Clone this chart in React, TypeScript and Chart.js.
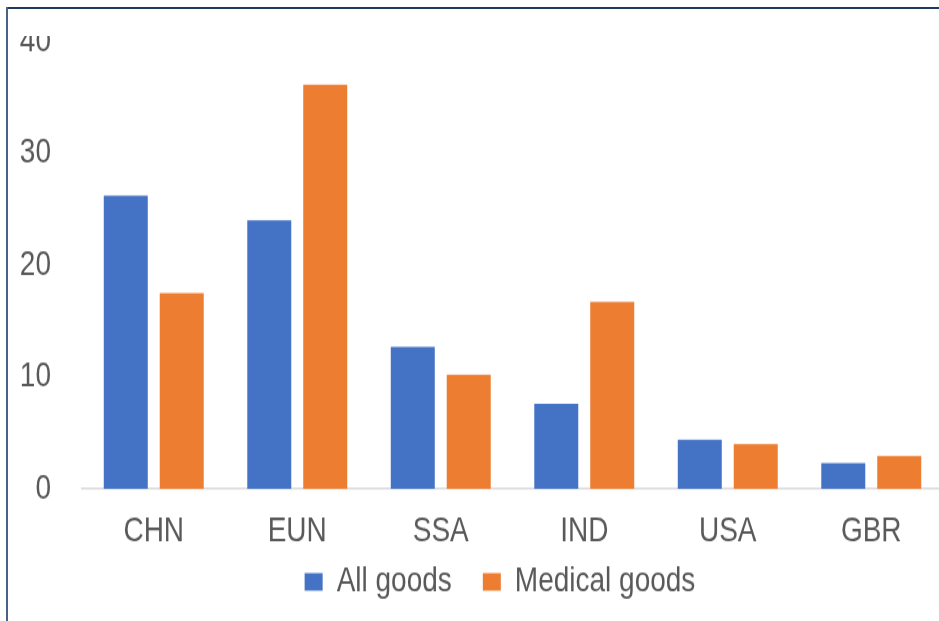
import React, { useEffect, useRef } from "react";
import { Chart, registerables } from "chart.js";

Chart.register(...registerables);

const categories = ["CHN", "EUN", "SSA", "IND", "USA", "GBR"];
const allGoods = [26.2, 24.0, 12.7, 7.6, 4.4, 2.3];
const medicalGoods = [17.5, 36.1, 10.2, 16.7, 4.0, 2.95];
const seriesNames = ["All goods", "Medical goods"];

const STRETCH = 1.25;
const FONT = "'Liberation Sans', Arial, sans-serif";

const legendPlace = {
  id: "legendPlace",
  afterLayout(chart: any) {
    const l = chart.legend;
    if (!l) return;
    const h = l.height;
    l.left += 57;
    l.top = 420.6;
    l.bottom = 420.6 + h;
  },
};

export default function App() {
  const ref = useRef<HTMLCanvasElement | null>(null);

  useEffect(() => {
    if (!ref.current) return;
    const chart = new Chart(ref.current, {
      type: "bar",
      data: {
        labels: categories,
        datasets: [
          {
            label: seriesNames[0],
            data: allGoods,
            backgroundColor: "#4472C4",
            categoryPercentage: 0.78,
            barPercentage: 0.786,
          },
          {
            label: seriesNames[1],
            data: medicalGoods,
            backgroundColor: "#ED7D31",
            categoryPercentage: 0.78,
            barPercentage: 0.786,
          },
        ],
      },
      options: {
        responsive: false,
        animation: false,
        layout: { padding: { left: 0, right: 7, top: 32.8, bottom: 9.2 } },
        plugins: {
          tooltip: { enabled: false },
          legend: {
            position: "bottom",
            labels: {
              font: { family: FONT, size: 28 },
              color: "#595959",
              boxWidth: 18,
              boxHeight: 14,
              padding: 31,
            },
          },
        },
        scales: {
          x: {
            afterFit: (scale: any) => {
              scale.height = 50.6;
            },
            grid: { display: false, drawTicks: false },
            border: { display: true, color: "#D9D9D9", width: 1.6 },
            ticks: {
              font: { family: FONT, size: 28 },
              color: "#595959",
              padding: 17,
            },
          },
          y: {
            min: 0,
            max: 40,
            afterFit: (scale: any) => {
              scale.width = 82;
              scale.paddingTop = 0;
              scale.paddingBottom = 0;
            },
            grid: { display: false, drawTicks: false },
            border: { display: false },
            ticks: {
              stepSize: 10,
              font: { family: FONT, size: 28 },
              color: "#595959",
              padding: 31,
            },
          },
        },
      },
      plugins: [legendPlace],
    });
    return () => chart.destroy();
  }, []);

  return (
    <div
      style={{
        position: "fixed",
        left: 0,
        top: 0,
        width: 939,
        height: 621,
        overflow: "hidden",
        background: "#ffffff",
      }}
    >
      <div
        style={{
          position: "absolute",
          left: 0,
          top: 36,
          width: 939,
          height: 585,
          overflow: "hidden",
        }}
      >
        <div
          style={{
            position: "absolute",
            left: 0,
            top: -36,
            transform: `scaleY(${STRETCH})`,
            transformOrigin: "0 0",
          }}
        >
          <canvas ref={ref} width={950} height={520} />
        </div>
      </div>
      <div
        style={{
          position: "absolute",
          left: 6,
          top: 7,
          width: 933,
          height: 2,
          background: "#203864",
        }}
      />
      <div
        style={{
          position: "absolute",
          left: 6,
          top: 7,
          width: 2,
          height: 614,
          background: "#4A6285",
        }}
      />
    </div>
  );
}
